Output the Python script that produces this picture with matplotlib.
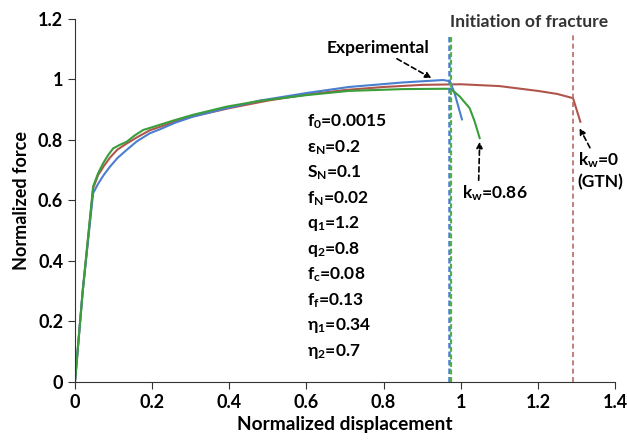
import matplotlib
matplotlib.use("Agg")
import matplotlib.pyplot as plt

plt.rcParams['font.family'] = ['Lato', 'DejaVu Sans']
plt.rcParams['mathtext.default'] = 'regular'

# Experimental curve (blue)
exp_x = [0, 0.02, 0.047, 0.06, 0.075, 0.091, 0.11, 0.134, 0.16, 0.194, 0.22, 0.26,
         0.306, 0.393, 0.479, 0.6, 0.71, 0.85, 0.954, 0.972, 0.985, 1.003]
exp_y = [0, 0.30, 0.624, 0.655, 0.685, 0.712, 0.74, 0.767, 0.795, 0.822, 0.835, 0.857,
         0.877, 0.905, 0.93, 0.955, 0.975, 0.99, 0.998, 0.994, 0.95, 0.868]

# Modified GTN, kw=0.86 (green)
kw086_x = [0, 0.02, 0.047, 0.06, 0.073, 0.086, 0.099, 0.115, 0.134, 0.155, 0.177,
           0.2, 0.22, 0.26, 0.306, 0.393, 0.479, 0.6, 0.71, 0.85, 0.954, 0.974,
           0.997, 1.023, 1.036, 1.049]
kw086_y = [0, 0.30, 0.646, 0.69, 0.723, 0.75, 0.772, 0.783, 0.794, 0.815, 0.833,
           0.842, 0.85, 0.866, 0.883, 0.91, 0.929, 0.948, 0.962, 0.968, 0.969, 0.969,
           0.944, 0.905, 0.861, 0.806]

# GTN, kw=0 (red)
gtn_x = [0, 0.02, 0.047, 0.06, 0.075, 0.091, 0.11, 0.134, 0.16, 0.194, 0.22, 0.26,
         0.3, 0.4, 0.5, 0.6, 0.7, 0.8, 0.9, 1.0, 1.1, 1.2, 1.25, 1.291, 1.31]
gtn_y = [0, 0.30, 0.64, 0.684, 0.714, 0.742, 0.768, 0.788, 0.808, 0.832, 0.843, 0.861,
         0.876, 0.905, 0.93, 0.95, 0.965, 0.975, 0.982, 0.984, 0.978, 0.962, 0.952,
         0.938, 0.86]

fracture_exp = 0.970
fracture_kw = 0.975
fracture_gtn = 1.291

params = [r"f$_{0}$=0.0015", r"ε$_{N}$=0.2", r"S$_{N}$=0.1", r"f$_{N}$=0.02",
          r"q$_{1}$=1.2", r"q$_{2}$=0.8", r"f$_{c}$=0.08", r"f$_{f}$=0.13",
          r"η$_{1}$=0.34", r"η$_{2}$=0.7"]

blue = "#4a7fd0"
green = "#3a9e3a"
red = "#b0554c"

fig = plt.figure(figsize=(6.27, 4.40), dpi=100)
ax = fig.add_axes([0.1196, 0.132, 0.8614, 0.825])

ax.plot(gtn_x, gtn_y, color=red, lw=1.5)
ax.plot(exp_x, exp_y, color=blue, lw=1.5)
ax.plot(kw086_x, kw086_y, color=green, lw=1.5)

# fracture initiation lines (stop below the label)
ax.vlines(fracture_exp, 0, 1.147, color=blue, lw=1.8, ls=(0, (2.2, 1.2)))
ax.vlines(fracture_kw, 0, 1.147, color="#4fae4f", lw=1.6, ls=(0, (2.2, 1.2)))
ax.vlines(fracture_gtn, 0, 1.153, color="#b86a64", lw=1.2, ls=(0, (3, 2)))

ax.set_xlim(0, 1.4)
ax.set_ylim(0, 1.2)
ax.set_xticks([0, 0.2, 0.4, 0.6, 0.8, 1, 1.2, 1.4])
ax.set_xticklabels(["0", "0.2", "0.4", "0.6", "0.8", "1", "1.2", "1.4"])
ax.set_yticks([0, 0.2, 0.4, 0.6, 0.8, 1, 1.2])
ax.set_yticklabels(["0", "0.2", "0.4", "0.6", "0.8", "1", "1.2"])
ax.spines['top'].set_visible(False)
ax.spines['right'].set_visible(False)
for s in ['left', 'bottom']:
    ax.spines[s].set_color('#333333')
ax.tick_params(labelsize=13, length=5, color='#333333')
for lab in ax.get_xticklabels() + ax.get_yticklabels():
    lab.set_fontweight('bold')

ax.set_xlabel("Normalized displacement", fontsize=13.8, fontweight='bold', labelpad=4)
ax.set_ylabel("Normalized force", fontsize=13, fontweight='bold', labelpad=6)

arrow = dict(arrowstyle='-|>', ls=(0, (3, 2)), color='black', lw=1.2,
             shrinkA=0, shrinkB=0, mutation_scale=9)

ax.annotate("Experimental", xy=(0.924, 1.004), xytext=(0.785, 1.104),
            ha='center', va='center', fontsize=12.5, fontweight='bold',
            arrowprops=arrow, annotation_clip=False)
ax.text(1.176, 1.19, "Initiation of fracture", ha='center', va='center',
        fontsize=12.6, fontweight='bold', color='#333333', clip_on=False)
ax.annotate(r"k$_{w}$=0.86", xy=(1.049, 0.794), xytext=(1.002, 0.625),
            ha='left', va='center', fontsize=12.5, fontweight='bold',
            arrowprops=dict(arrow, relpos=(0.26, 1.0)))
ax.annotate(r"k$_{w}$=0" + "\n(GTN)", xy=(1.308, 0.839), xytext=(1.303, 0.70),
            ha='left', va='center', fontsize=12.5, fontweight='bold',
            linespacing=1.25, arrowprops=dict(arrow, relpos=(0.3, 1.0)))

for i, p in enumerate(params):
    ax.text(0.601, 0.86 - i * 0.0843, p, ha='left', va='center',
            fontsize=12.5, fontweight='bold')

fig.savefig("out.png", dpi=100)
